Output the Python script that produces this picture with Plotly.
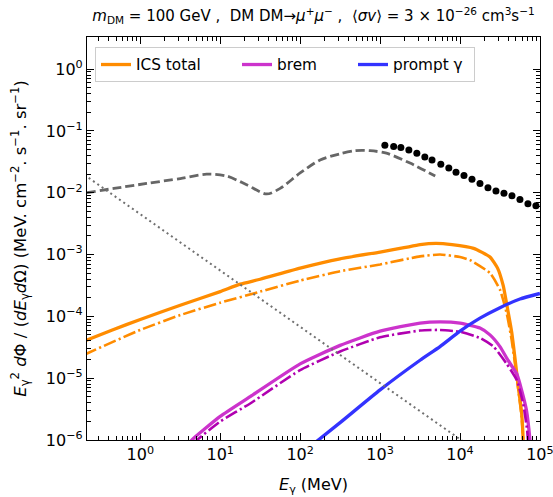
import numpy as np
import plotly.graph_objects as go

# ---- data (log10 of E [MeV] and log10 of E^2 dPhi/dE dOmega) ----
ics_total_logE = [-0.7, -0.35, 0.0, 0.5, 1.0, 1.25, 1.5, 2.0, 2.5, 3.0, 3.3, 3.5, 3.7, 3.9,
                  4.17, 4.375, 4.47, 4.54, 4.584, 4.646, 4.69, 4.73, 4.77, 4.79, 4.80]
ics_total_logF = [-4.40, -4.22, -4.05, -3.82, -3.60, -3.48, -3.40, -3.22, -3.07, -2.96, -2.89, -2.84, -2.82, -2.84,
                  -2.90, -3.04, -3.22, -3.50, -3.80, -4.25, -4.70, -5.15, -5.55, -6.0, -7.0]

ics_part_logE = [-0.7, 0.0, 0.5, 1.0, 1.5, 2.0, 2.5, 3.0, 3.5, 3.75, 4.0, 4.125, 4.375, 4.5,
                 4.584, 4.646, 4.6875, 4.73, 4.77, 4.79, 4.80]
ics_part_logF = [-4.62, -4.22, -3.98, -3.78, -3.60, -3.42, -3.27, -3.16, -3.03, -3.00, -3.04, -3.09, -3.30, -3.57,
                 -3.95, -4.38, -4.76, -5.19, -5.62, -6.0, -7.0]

brem_total_logE = [0.6, 0.646, 1.0, 1.375, 2.0, 2.5, 3.0, 3.5, 3.75, 4.0, 4.25, 4.375, 4.5,
                   4.6, 4.71, 4.77, 4.83, 4.875, 4.9]
brem_total_logF = [-6.08, -6.0, -5.62, -5.30, -4.77, -4.47, -4.24, -4.11, -4.09, -4.11, -4.19, -4.30, -4.49,
                   -4.71, -4.93, -5.19, -5.51, -6.0, -6.5]

brem_part_logE = [0.65, 0.71, 1.0, 1.375, 2.0, 2.5, 3.0, 3.5, 3.75, 4.0, 4.25, 4.42, 4.58,
                  4.71, 4.79, 4.84, 4.86]
brem_part_logF = [-6.07, -6.0, -5.70, -5.41, -4.87, -4.57, -4.34, -4.23, -4.22, -4.25, -4.35, -4.49, -4.76,
                  -5.03, -5.41, -5.84, -6.2]

prompt_logE = [2.2, 2.5, 3.0, 3.5, 3.75, 4.0, 4.25, 4.5, 4.75, 5.0]
prompt_logF = [-6.03, -5.72, -5.19, -4.71, -4.49, -4.24, -4.03, -3.86, -3.72, -3.63]

bkg_dashed_logE = [-0.67, -0.33, 0.08, 0.5, 0.83, 1.08, 1.33, 1.58, 1.75, 2.0, 2.25, 2.5,
                   2.69, 2.875, 3.08, 3.375, 3.69]
bkg_dashed_logF = [-2.00, -1.93, -1.85, -1.77, -1.70, -1.73, -1.87, -2.02, -1.93, -1.68, -1.47, -1.37,
                   -1.32, -1.32, -1.36, -1.52, -1.73]

bkg_dotted_logE = [-0.7, 0.0, 1.0, 2.0, 3.0, 4.1]
bkg_dotted_logF = [-1.71, -2.35, -3.26, -4.17, -5.08, -6.08]

obs_logE = [3.06, 3.17, 3.26, 3.36, 3.46, 3.56, 3.65, 3.76, 3.86, 3.95,
            4.05, 4.15, 4.25, 4.35, 4.45, 4.55, 4.65, 4.75, 4.85, 4.95]
obs_logF = [-1.23, -1.25, -1.27, -1.31, -1.36, -1.42, -1.47, -1.54, -1.60, -1.67,
            -1.72, -1.78, -1.85, -1.92, -1.97, -2.01, -2.05, -2.11, -2.18, -2.21]

x_ticks = [1, 10, 100, 1e3, 1e4, 1e5]
x_ticktext = ["10<sup>0</sup>", "10<sup>1</sup>", "10<sup>2</sup>", "10<sup>3</sup>",
              "10<sup>4</sup>", "10<sup>5</sup>"]
y_ticks = [1e-6, 1e-5, 1e-4, 1e-3, 1e-2, 1e-1, 1]
y_ticktext = ["10<sup>−6</sup>", "10<sup>−5</sup>", "10<sup>−4</sup>", "10<sup>−3</sup>",
              "10<sup>−2</sup>", "10<sup>−1</sup>", "10<sup>0</sup>"]


def pw(a):
    return (10.0 ** np.array(a, dtype=float)).tolist()


FONT = "DejaVu Sans"
DASHDOT = "12.8px,3.2px,2.2px,3.2px"
SM = dict(shape="spline", smoothing=0.5)

fig = go.Figure()
fig.add_trace(go.Scatter(x=pw(ics_total_logE), y=pw(ics_total_logF), mode="lines", name="ICS total",
                         line=dict(color="#ff8c00", width=3.3, **SM), legendwidth=96))
fig.add_trace(go.Scatter(x=pw(ics_part_logE), y=pw(ics_part_logF), mode="lines", showlegend=False,
                         line=dict(color="#ff8c00", width=2.6, dash=DASHDOT, **SM)))
fig.add_trace(go.Scatter(x=pw(brem_total_logE), y=pw(brem_total_logF), mode="lines", name="brem",
                         line=dict(color="#cc33cc", width=3.3, **SM), legendwidth=71))
fig.add_trace(go.Scatter(x=pw(brem_part_logE), y=pw(brem_part_logF), mode="lines", showlegend=False,
                         line=dict(color="#b000b0", width=2.6, dash=DASHDOT, **SM)))
fig.add_trace(go.Scatter(x=pw(prompt_logE), y=pw(prompt_logF), mode="lines", name="prompt γ",
                         line=dict(color="#3333ff", width=3.3, **SM), legendwidth=76))
fig.add_trace(go.Scatter(x=pw(bkg_dashed_logE), y=pw(bkg_dashed_logF), mode="lines", showlegend=False,
                         line=dict(color="#666666", width=2.8, dash="9px,4px", shape="spline", smoothing=0.8)))
fig.add_trace(go.Scatter(x=pw(bkg_dotted_logE), y=pw(bkg_dotted_logF), mode="lines", showlegend=False,
                         line=dict(color="#707070", width=2, dash="2px,3.3px")))
fig.add_trace(go.Scatter(x=pw(obs_logE), y=pw(obs_logF), mode="markers", showlegend=False,
                         marker=dict(color="black", size=7)))

x_minor = [k * 10.0 ** p for p in range(-1, 5) for k in range(2, 10)]
y_minor = [k * 10.0 ** p for p in range(-6, 0) for k in range(2, 10)]

common = dict(type="log", ticks="inside", ticklen=7, tickwidth=1, tickcolor="black",
              showline=True, linecolor="black", linewidth=1.2, mirror="allticks",
              showgrid=False, zeroline=False, tickmode="array", ticklabeloverflow="allow",
              tickfont=dict(family=FONT, size=16, color="black"))

fig.update_xaxes(**common, range=[-0.667, 5.001], tickvals=x_ticks, ticktext=x_ticktext,
                 minor=dict(ticks="inside", ticklen=4, tickwidth=1, tickcolor="black",
                            tickmode="array", tickvals=x_minor, showgrid=False),
                 title=dict(text="<i>E</i><sub>γ</sub> (MeV)", font=dict(family=FONT, size=16, color="black")))
fig.update_yaxes(**common, range=[-6.001, 0.52], tickvals=y_ticks, ticktext=y_ticktext,
                 minor=dict(ticks="inside", ticklen=4, tickwidth=1, tickcolor="black",
                            tickmode="array", tickvals=y_minor, showgrid=False),
                 title=dict(text="<i>E</i><sub>γ</sub><sup>2</sup> <i>d</i>Φ / (<i>dE</i><sub>γ</sub><i>d</i>Ω) "
                                 "(MeV. cm<sup>−2</sup>. s<sup>−1</sup>. sr<sup>−1</sup>)",
                            font=dict(family=FONT, size=16.5, color="black")))

fig.update_layout(
    width=553, height=497,
    margin=dict(l=87, r=13, t=37, b=57, autoexpand=False),
    paper_bgcolor="white", plot_bgcolor="white",
    font=dict(family=FONT, size=16, color="black"),
    title=dict(text="<i>m</i><sub>DM</sub> = 100 GeV ,  DM DM→<i>μ</i><sup>+</sup><i>μ</i><sup>−</sup> ,  "
                    "⟨<i>σv</i>⟩ = 3 × 10<sup>−26</sup> cm<sup>3</sup>s<sup>−1</sup>",
               x=0.5, xref="paper", xanchor="center", y=1 - 16 / 497, yref="container", yanchor="middle",
               font=dict(family=FONT, size=15, color="black")),
    legend=dict(orientation="h", x=0.0177, y=0.975, xanchor="left", yanchor="top",
                bgcolor="white", bordercolor="#cccccc", borderwidth=1,
                font=dict(family=FONT, size=15.3, color="black"), traceorder="normal"),
    showlegend=True,
)

fig.write_html("out.html")
